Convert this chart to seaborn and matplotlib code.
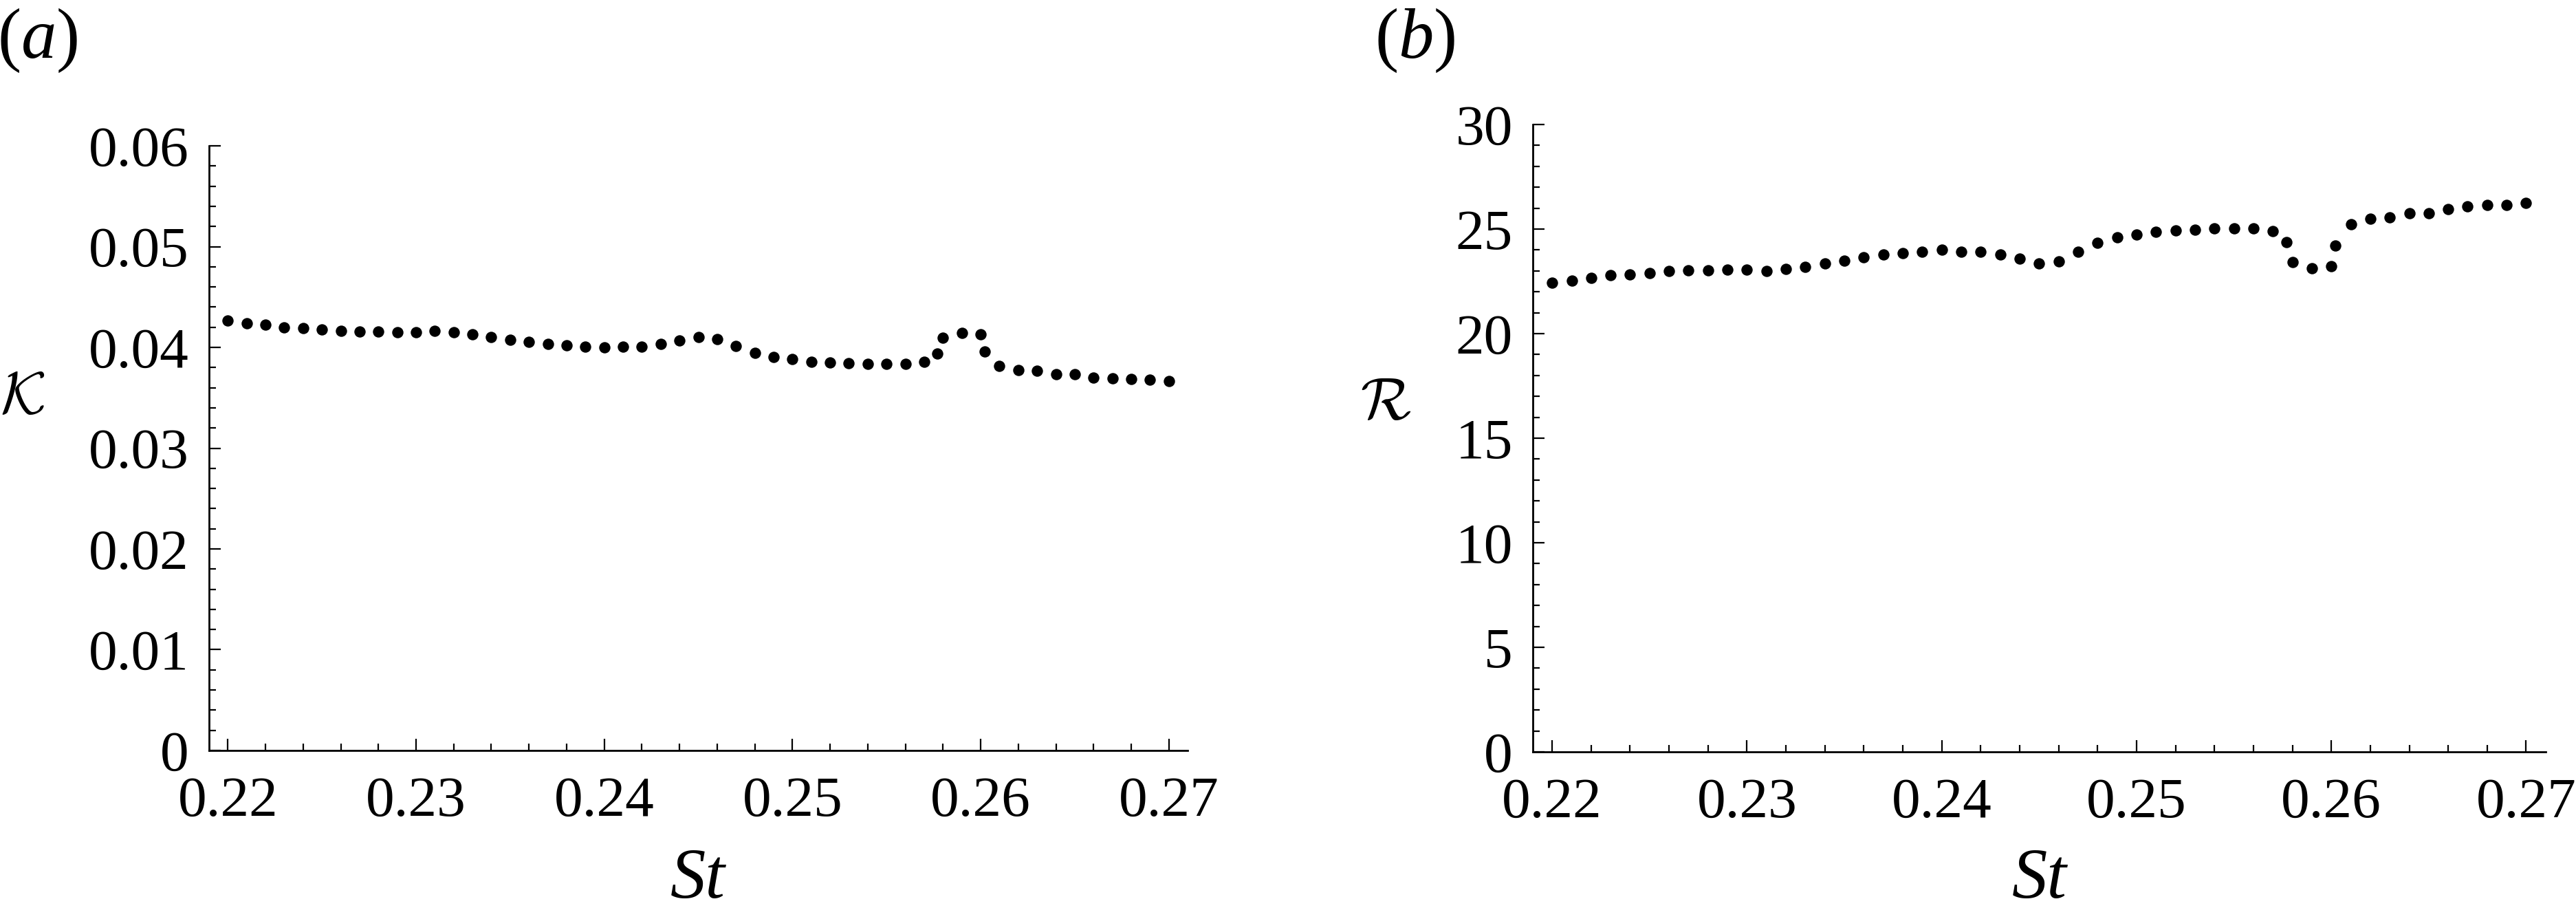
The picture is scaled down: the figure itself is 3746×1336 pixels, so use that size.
import numpy as np
import pandas as pd
import matplotlib
matplotlib.use("Agg")
import matplotlib.pyplot as plt
import seaborn as sns
from matplotlib.ticker import MultipleLocator, FixedLocator

# valores
st_base = [0.220, 0.221, 0.222, 0.223, 0.224, 0.225, 0.226, 0.227, 0.228, 0.229,
           0.230, 0.231, 0.232, 0.233, 0.234, 0.235, 0.236, 0.237, 0.238, 0.239,
           0.240, 0.241, 0.242, 0.243, 0.244, 0.245, 0.246, 0.247, 0.248, 0.249,
           0.250, 0.251, 0.252, 0.253, 0.254, 0.255, 0.256, 0.257, 0.2577, 0.258,
           0.259, 0.260, 0.2602, 0.261, 0.262, 0.263, 0.264, 0.265, 0.266, 0.267,
           0.268, 0.269, 0.270]

kappa = [0.04265, 0.04242, 0.04224, 0.04201, 0.04194, 0.04178, 0.04167, 0.04160, 0.04160, 0.04153,
         0.04153, 0.04162, 0.04150, 0.04132, 0.04103, 0.04078, 0.04055, 0.04034, 0.04018, 0.04009,
         0.04000, 0.04009, 0.04009, 0.04034, 0.04066, 0.04105, 0.04084, 0.04014, 0.03945, 0.03904,
         0.03881, 0.03858, 0.03852, 0.03840, 0.03833, 0.03836, 0.03836, 0.03854, 0.03938, 0.04098,
         0.04146, 0.04128, 0.03961, 0.03815, 0.03772, 0.03765, 0.03737, 0.03731, 0.03703, 0.03690,
         0.03683, 0.03680, 0.03664]

razao = [22.45, 22.54, 22.67, 22.80, 22.84, 22.91, 23.00, 23.02, 23.02, 23.05,
         23.05, 23.01, 23.09, 23.18, 23.36, 23.49, 23.65, 23.77, 23.85, 23.93,
         24.01, 23.93, 23.93, 23.78, 23.58, 23.34, 23.46, 23.91, 24.33, 24.59,
         24.73, 24.87, 24.92, 24.98, 25.05, 25.03, 25.03, 24.91, 24.36, 23.41,
         23.11, 23.22, 24.20, 25.22, 25.49, 25.55, 25.75, 25.75, 25.96, 26.08,
         26.15, 26.15, 26.26]

st_ticks = [0.22, 0.23, 0.24, 0.25, 0.26, 0.27]
st_labels = ['0.22', '0.23', '0.24', '0.25', '0.26', '0.27']
k_ticks = [0, 0.01, 0.02, 0.03, 0.04, 0.05, 0.06]
k_labels = ['0', '0.01', '0.02', '0.03', '0.04', '0.05', '0.06']
r_ticks = [0, 5, 10, 15, 20, 25, 30]
r_labels = ['0', '5', '10', '15', '20', '25', '30']

df_k = pd.DataFrame({'St': st_base, 'K': kappa})
df_r = pd.DataFrame({'St': st_base, 'R': razao})

sns.set_style('ticks')
plt.rcParams['font.family'] = ['Liberation Serif', 'DejaVu Serif']
plt.rcParams['text.color'] = 'black'
plt.rcParams['mathtext.fontset'] = 'custom'
plt.rcParams['mathtext.rm'] = 'Liberation Serif'
plt.rcParams['mathtext.it'] = 'Liberation Serif:italic'

fig = plt.figure(figsize=(37.46, 13.36), dpi=100)
ax1 = fig.add_axes([0.08115, 0.1834, 0.3799, 0.6579])
ax2 = fig.add_axes([0.5950, 0.1819, 0.3932, 0.6826])

sns.scatterplot(data=df_k, x='St', y='K', ax=ax1, color='black', s=140,
                linewidth=0, legend=False, clip_on=False)
sns.scatterplot(data=df_r, x='St', y='R', ax=ax2, color='black', s=140,
                linewidth=0, legend=False, clip_on=False)

def arruma_eixo(ax, yticks, ylabels, ymax, ymenor):
    ax.set_xlim(0.219, 0.271)
    ax.set_ylim(0, ymax)
    ax.xaxis.set_major_locator(FixedLocator(st_ticks))
    ax.set_xticklabels(st_labels)
    ax.xaxis.set_minor_locator(MultipleLocator(0.002))
    ax.yaxis.set_major_locator(FixedLocator(yticks))
    ax.set_yticklabels(ylabels)
    ax.yaxis.set_minor_locator(MultipleLocator(ymenor))
    ax.set_xlabel('')
    ax.set_ylabel('')
    for lado in ['top', 'right']:
        ax.spines[lado].set_visible(False)
    for lado in ['left', 'bottom']:
        ax.spines[lado].set_linewidth(2.0)
        ax.spines[lado].set_color('black')
    ax.tick_params(axis='both', which='major', direction='in', length=12, width=1.6,
                   labelsize=60, colors='black')
    ax.tick_params(axis='both', which='minor', direction='in', length=7.5, width=1.6,
                   colors='black')
    ax.tick_params(axis='x', which='major', pad=27)
    ax.tick_params(axis='y', which='major', pad=21)
    ax.grid(False)

arruma_eixo(ax1, k_ticks, k_labels, 0.06, 0.002)
arruma_eixo(ax2, r_ticks, r_labels, 30, 1)

# rótulos
fig.text(0.271, 0.042, 'St', fontsize=74, fontstyle='italic', ha='center', va='center')
fig.text(0.7916, 0.042, 'St', fontsize=74, fontstyle='italic', ha='center', va='center')
fig.text(0.0088, 0.566, r'$\mathcal{K}$', fontsize=62, ha='center', va='center',
         math_fontfamily='cm')
fig.text(0.5379, 0.560, r'$\mathcal{R}$', fontsize=62, ha='center', va='center',
         math_fontfamily='cm')
fig.text(0.0147, 0.9558, r'$(\mathit{a})$', fontsize=74, ha='center', va='center')
fig.text(0.5494, 0.9558, r'$(\mathit{b})$', fontsize=74, ha='center', va='center')

fig.savefig('out.png', dpi=100, facecolor='white')
